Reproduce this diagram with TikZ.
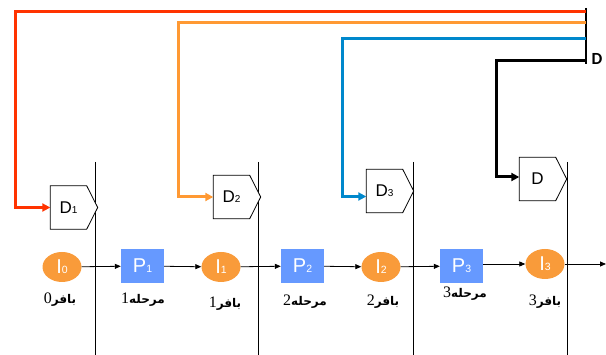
\documentclass[tikz,border=0pt]{standalone}
\usepackage{fontspec}
\setmainfont{Liberation Sans}
\newfontfamily\arabicfont[Script=Arabic]{DejaVu Sans}
\newfontfamily\digitfont{Liberation Serif}
\newfontfamily\lblfont{Carlito}
\TeXXeTstate=1
\usetikzlibrary{arrows.meta,calc,shapes.geometric}
\definecolor{cred}{HTML}{FF3300}
\definecolor{corange}{HTML}{FF9933}
\definecolor{cblue}{HTML}{0088CC}
\definecolor{cellipse}{HTML}{F99B3A}
\definecolor{crect}{HTML}{6699FF}
\newcommand{\bigsub}[2]{{\fontsize{20}{20}\selectfont #1}{\fontsize{10.5}{10.5}\selectfont #2}}
\newcommand{\dsub}[2]{{\fontsize{17}{17}\selectfont #1}{\fontsize{10}{10}\selectfont #2}}
\newcommand{\ar}[2]{{\digitfont\fontsize{16}{16}\selectfont #2}{\arabicfont\bfseries\fontsize{12}{14}\selectfont\beginR #1\endR}}
\begin{document}
\begin{tikzpicture}[x=1pt,y=-1pt,
  buf/.style={ellipse, fill=cellipse, minimum width=39pt, minimum height=30pt, inner sep=0pt, text=white},
  proc/.style={rectangle, fill=crect, minimum width=43pt, minimum height=34pt, inner sep=0pt, text=white},
  dnode/.style={rectangle, minimum width=36pt, minimum height=43pt, inner sep=0pt},
  lbl/.style={inner sep=0pt},
  flow/.style={-{Triangle[length=6pt,width=5pt]}, line width=0.8pt},
  fb/.style={-{Triangle[length=8pt,width=8pt]}, line width=3pt},
  stage/.style={line width=0.8pt}
]
\useasboundingbox (0,0) rectangle (606,355);
% stage separators
\foreach \x/\n in {95/s1,258/s2,413/s3,567/s4}{
  \coordinate (\n t) at (\x,162);
  \coordinate (\n b) at (\x,355);
  \draw[stage] (\n t) -- (\n b);
}
% D boxes
\node[dnode] (d1) at (68.5,207.5) {};
\node[dnode] (d2) at (231.5,197) {};
\node[dnode] (d3) at (384.5,191) {};
\node[dnode] (d4) at (537.5,179) {};
\foreach \d in {d1,d2,d3,d4}{
  \draw[line width=0.8pt, fill=white] (\d.north west) -- (\d.north east) -- ($(\d.east)+(11pt,0)$) -- (\d.south east) -- (\d.south west) -- cycle;
}
\node[dnode] at (d1) {\dsub{D}{1}};
\node[dnode] at (d2) {\dsub{D}{2}};
\node[dnode] at (d3) {\dsub{D}{3}};
\node[dnode] at (d4) {{\fontsize{17}{17}\selectfont D}};
% bus
\coordinate (bt) at (586,8);
\coordinate (bb) at (586,64);
\draw[line width=1.5pt] (bt) -- (bb);
\node[lbl, font=\lblfont\bfseries\fontsize{17}{17}\selectfont] (dl) at (597,59) {D};
% feedback lines
\coordinate (r0) at (586,12);
\coordinate (o0) at (586,23);
\coordinate (b0) at (586,39);
\coordinate (k0) at (586,61);
\draw[fb, cred] (r0) -- (15,12) |- (d1.west);
\draw[fb, corange] (o0) -- (178,23) |- (d2.west);
\draw[fb, cblue] (b0) -- (342,39) |- ($(d3.west)+(0,5.5)$);
\draw[fb, black] (k0) -- (496,61) |- ($(d4.west)+(0,-2)$);
% main row
\node[buf] (i0) at (62,267) {\bigsub{I}{0}};
\node[proc] (p1) at (142.5,266) {\bigsub{P}{1}};
\node[buf] (i1) at (221,267) {\bigsub{I}{1}};
\node[proc] (p2) at (302.5,266) {\bigsub{P}{2}};
\node[buf] (i2) at (381,267) {\bigsub{I}{2}};
\node[proc] (p3) at (461.5,266) {\bigsub{P}{3}};
\node[buf] (i3) at (545,264) {\bigsub{I}{3}};
\coordinate (out) at (606,264);
\draw[flow] (i0) -- (p1);
\draw[flow] (p1) -- (i1);
\draw[flow] (i1) -- (p2);
\draw[flow] (p2) -- (i2);
\draw[flow] (i2) -- (p3);
\draw[flow] (p3.east |- i3) -- (i3);
\draw[flow] (i3) -- (out);
% labels
\node[lbl] (l0) at (60,300) {\ar{بافر}{0}};
\node[lbl] (l1) at (143,300) {\ar{مرحله}{1}};
\node[lbl] (l2) at (225,304) {\ar{بافر}{1}};
\node[lbl] (l3) at (305,302) {\ar{مرحله}{2}};
\node[lbl] (l4) at (383,302) {\ar{بافر}{2}};
\node[lbl] (l5) at (465,294) {\ar{مرحله}{3}};
\node[lbl] (l6) at (545,302) {\ar{بافر}{3}};
\end{tikzpicture}
\end{document}
